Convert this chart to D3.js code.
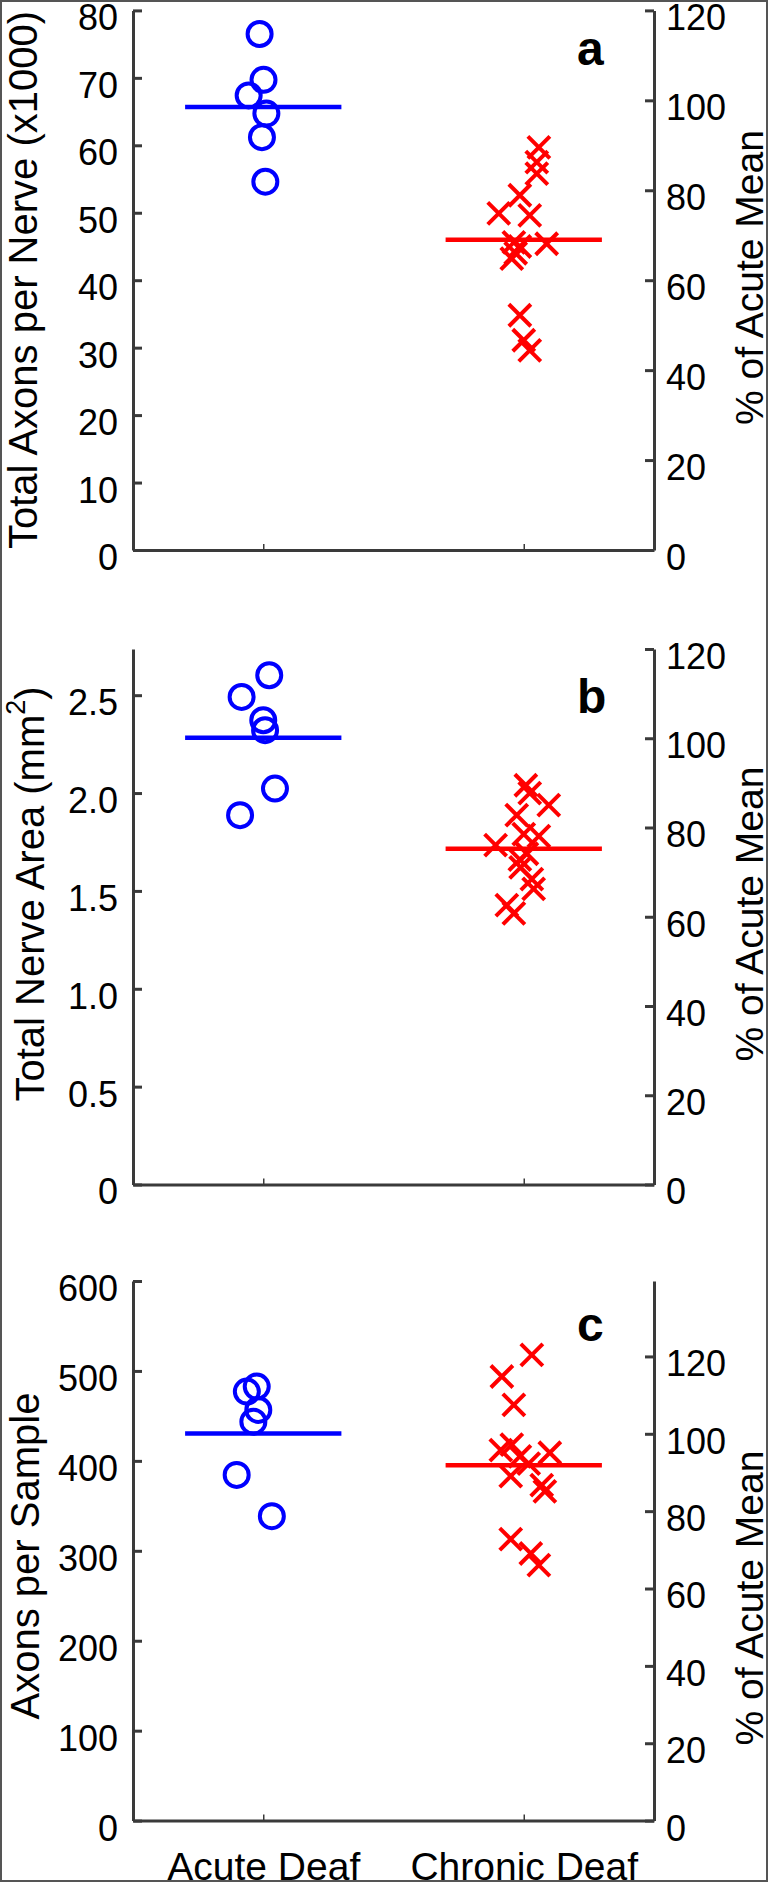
<!DOCTYPE html>
<html>
<head>
<meta charset="utf-8">
<script src="https://cdn.jsdelivr.net/npm/d3@7"></script>
<style>
body { margin: 0; background: #fff; }
text { font-family: "Liberation Sans", Arial, sans-serif; fill: #000; }
</style>
</head>
<body>
<script>
// categories on the x axis
const categories = ["Acute Deaf", "Chronic Deaf"];

// panel a: total axons per nerve (x1000)
const axonsAcute = [76.5, 69.7, 67.4, 64.7, 61.2, 54.6];
const axonsAcuteJitter = [-0.014, 0.001, -0.056, 0.012, -0.005, 0.008];
const axonsChronic = [59.7, 57.5, 55.8, 52.6, 49.9, 49.6, 45.6, 45.4, 45.0, 44.0, 43.2, 34.8, 31.1, 29.6];
const axonsChronicJitter = [0.058, 0.050, 0.050, -0.015, -0.096, 0.023, -0.038, 0.088, -0.015, -0.031, -0.046, -0.015, 0, 0.023];

// panel b: total nerve area (mm2)
const areaAcute = [2.602, 2.491, 2.372, 2.321, 2.023, 1.887];
const areaAcuteJitter = [0.023, -0.083, 0.000, 0.007, 0.045, -0.089];
const areaChronic = [2.040, 2.000, 1.938, 1.887, 1.790, 1.780, 1.734, 1.690, 1.660, 1.620, 1.560, 1.510, 1.427, 1.385];
const areaChronicJitter = [0.008, 0.023, 0.096, -0.027, 0, 0.058, -0.108, 0.012, -0.015, -0.012, 0.031, 0.038, -0.065, -0.038];

// panel c: axons per sample
const sampleAcute = [482.6, 477.0, 456.6, 443.6, 384.4, 338.5];
const sampleAcuteJitter = [-0.025, -0.063, -0.019, -0.038, -0.102, 0.033];
const sampleChronic = [517.9, 493.8, 462.3, 418, 412, 409, 405, 397, 383, 373, 366, 313, 297, 284];
const sampleChronicJitter = [0.031, -0.084, -0.038, -0.046, -0.088, 0.100, -0.015, 0.019, -0.050, 0.069, 0.081, -0.050, 0.027, 0.058];

// tick values
const ticksA = [0, 10, 20, 30, 40, 50, 60, 70, 80];
const ticksB = [0, 0.5, 1.0, 1.5, 2.0, 2.5];
const ticksC = [0, 100, 200, 300, 400, 500, 600];
const percentTicks = [0, 20, 40, 60, 80, 100, 120];

const width = 768, height = 1882;
const blue = "#0000ff", red = "#ff0000", axisColor = "#3a3a3a";

const svg = d3.select("body").append("svg")
    .attr("width", width)
    .attr("height", height);

// outer frame
svg.append("rect")
    .attr("x", 1).attr("y", 1)
    .attr("width", width - 2).attr("height", height - 2)
    .attr("fill", "#fff")
    .attr("stroke", "#555")
    .attr("stroke-width", 2);

const x = d3.scaleLinear().domain([0.5, 2.5]).range([133, 654]);

const panels = [
    {top: 10.4, bottom: 550, leftMax: 80, rightMax: 120, ticks: ticksA, fmt: d3.format("d"),
     acute: axonsAcute, acuteJ: axonsAcuteJitter, chronic: axonsChronic, chronicJ: axonsChronicJitter,
     label: ["Total Axons per Nerve (x1000)"], labelX: 37, labelY: 280, rightY: 277.5,
     letter: "a", letterY: 65},
    {top: 649, bottom: 1184.5, leftMax: 2.736, rightMax: 120, ticks: ticksB, fmt: d => d === 0 ? "0" : d3.format(".1f")(d),
     acute: areaAcute, acuteJ: areaAcuteJitter, chronic: areaChronic, chronicJ: areaChronicJitter,
     label: ["Total Nerve Area (mm", "2", ")"], labelX: 44, labelY: 894, rightY: 914,
     letter: "b", letterY: 713},
    {top: 1281, bottom: 1820.6, leftMax: 600, rightMax: 139.5, ticks: ticksC, fmt: d3.format("d"),
     acute: sampleAcute, acuteJ: sampleAcuteJitter, chronic: sampleChronic, chronicJ: sampleChronicJitter,
     label: ["Axons per Sample"], labelX: 39, labelY: 1556, rightY: 1598,
     letter: "c", letterY: 1341, showCats: true}
];

function styleAxis(g) {
    g.attr("font-family", null).attr("font-size", null);
    g.select(".domain").attr("stroke", axisColor).attr("stroke-width", 3);
    g.selectAll(".tick line").attr("stroke", axisColor).attr("stroke-width", 3);
    g.selectAll(".tick text").attr("font-size", 36).attr("fill", "#000");
}

panels.forEach(function(p) {
    const y = d3.scaleLinear().domain([0, p.leftMax]).range([p.bottom, p.top]);
    const yR = d3.scaleLinear().domain([0, p.rightMax]).range([p.bottom, p.top]);

    // left axis, ticks pointing inward
    const gl = svg.append("g")
        .attr("transform", "translate(" + x.range()[0] + ",0)")
        .call(d3.axisLeft(y).tickValues(p.ticks).tickFormat(p.fmt)
            .tickSizeInner(-9).tickSizeOuter(0).tickPadding(15));
    styleAxis(gl);
    gl.selectAll(".tick text").attr("dy", "0.54em");

    // right axis, percent of acute mean
    const gr = svg.append("g")
        .attr("transform", "translate(" + x.range()[1] + ",0)")
        .call(d3.axisRight(yR).tickValues(percentTicks)
            .tickSizeInner(-9).tickSizeOuter(0).tickPadding(12));
    styleAxis(gr);
    gr.selectAll(".tick text").attr("dy", "0.54em");

    // bottom axis
    const gb = svg.append("g")
        .attr("transform", "translate(0," + p.bottom + ")")
        .call(d3.axisBottom(x).tickValues([1, 2])
            .tickFormat((d, i) => p.showCats ? categories[i] : "")
            .tickSizeInner(-6).tickSizeOuter(0));
    styleAxis(gb);
    gb.selectAll(".tick line").attr("stroke-width", 1.5);
    gb.selectAll(".tick text").attr("font-size", 39).attr("y", 59).attr("dy", 0);

    // left label
    const lt = svg.append("text")
        .attr("transform", "translate(" + p.labelX + "," + p.labelY + ") rotate(-90)")
        .attr("text-anchor", "middle")
        .attr("font-size", 40);
    lt.append("tspan").text(p.label[0]);
    if (p.label.length > 1) {
        lt.append("tspan").attr("font-size", 27).attr("dy", -19).text(p.label[1]);
        lt.append("tspan").attr("dy", 19).text(p.label[2]);
    }

    // right label
    svg.append("text")
        .attr("transform", "translate(763," + p.rightY + ") rotate(-90)")
        .attr("text-anchor", "middle")
        .attr("font-size", 39)
        .text("% of Acute Mean");

    // panel letter
    svg.append("text")
        .attr("x", 577).attr("y", p.letterY)
        .attr("font-size", 48)
        .attr("font-weight", "bold")
        .text(p.letter);

    // mean lines
    const groups = [
        {vals: p.acute, jit: p.acuteJ, pos: 1, color: blue},
        {vals: p.chronic, jit: p.chronicJ, pos: 2, color: red}
    ];
    groups.forEach(function(g) {
        const m = d3.mean(g.vals);
        svg.append("line")
            .attr("x1", x(g.pos - 0.3)).attr("x2", x(g.pos + 0.3))
            .attr("y1", y(m)).attr("y2", y(m))
            .attr("stroke", g.color)
            .attr("stroke-width", 4.5);
    });

    // acute: open circles
    svg.append("g").selectAll("circle")
        .data(p.acute)
        .join("circle")
        .attr("cx", (d, i) => x(1 + p.acuteJ[i]))
        .attr("cy", d => y(d))
        .attr("r", 12)
        .attr("fill", "none")
        .attr("stroke", blue)
        .attr("stroke-width", 4);

    // chronic: crosses
    svg.append("g").selectAll("path")
        .data(p.chronic)
        .join("path")
        .attr("transform", (d, i) => "translate(" + x(2 + p.chronicJ[i]) + "," + y(d) + ")")
        .attr("d", "M-11,-11L11,11M-11,11L11,-11")
        .attr("fill", "none")
        .attr("stroke", red)
        .attr("stroke-width", 4);
});
</script>
</body>
</html>
